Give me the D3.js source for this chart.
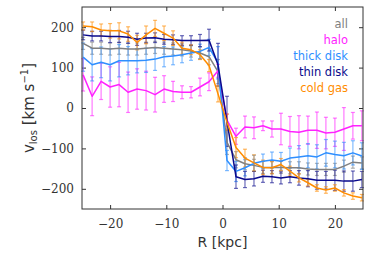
<!DOCTYPE html>
<html>
<head>
<meta charset="utf-8">
<script src="https://cdn.jsdelivr.net/npm/d3@7"></script>
<style>
  body { margin: 0; background: #fff; }
  svg { display: block; }
</style>
</head>
<body>
<div id="chart"></div>
<script>
// bin centres in kpc
const radius = [-24.8, -23.2, -21.6, -20, -18.4, -16.8, -15.2, -13.6, -12, -10.4, -8.8, -7.2, -5.6, -4, -2.4, -0.8,
                0.8, 2.4, 4, 5.6, 7.2, 8.8, 10.4, 12, 13.6, 15.2, 16.8, 18.4, 20, 21.6, 23.2, 24.8];

// line-of-sight velocities (km/s) and their errors
const allVel = [160, 148, 148, 146, 148, 146, 146, 148, 150, 148, 146, 144, 141, 136, 127, 90,
                -85, -128, -138, -142, -147, -147, -147, -148, -148, -151, -152, -152, -152, -144, -134, -136];
const allErr = [15, 15, 15, 15, 15, 15, 15, 15, 15, 15, 15, 15, 15, 15, 20, 30,
                30, 20, 15, 15, 15, 15, 15, 15, 15, 15, 15, 15, 15, 15, 15, 15];

const haloVel = [82, 29, 66, 52, 58, 39, 47, 43, 33, 47, 41, 39, 39, 52, 65, 92,
                 -30, -70, -47, -49, -44, -52, -52, -58, -60, -55, -55, -62, -60, -52, -44, -44];
const haloErr = [40, 48, 45, 50, 55, 50, 50, 48, 43, 33, 25, 16, 14, 22, 22, 16,
                 15, 20, 27, 27, 12, 20, 39, 37, 41, 35, 45, 39, 35, 53, 33, 37];

const thickVel = [126, 107, 113, 107, 117, 117, 117, 118, 121, 127, 129, 132, 136, 140, 150, 112,
                  -130, -157, -148, -137, -132, -129, -132, -124, -121, -118, -121, -111, -115, -118, -111, -119];
const thickErr = [35, 40, 38, 40, 40, 35, 30, 30, 28, 25, 22, 20, 18, 18, 20, 40,
                  25, 25, 20, 20, 18, 20, 22, 25, 28, 30, 30, 33, 33, 33, 30, 33];

const thinVel = [181, 178, 178, 177, 177, 175, 170, 173, 174, 170, 169, 167, 167, 167, 168, 107,
                 -33, -170, -177, -175, -169, -170, -173, -170, -173, -175, -179, -179, -179, -181, -181, -177];
const thinErr = [12, 12, 12, 15, 15, 15, 15, 12, 12, 12, 12, 12, 12, 15, 27, 53,
                 62, 29, 20, 18, 15, 15, 15, 15, 18, 20, 22, 22, 25, 25, 25, 20];

const gasVel = [203, 201, 193, 191, 191, 183, 162, 181, 197, 185, 173, 148, 144, 132, 105, 35,
                -35, -98, -124, -136, -147, -148, -140, -156, -173, -185, -198, -203, -198, -210, -218, -222];
const gasErr = [10, 12, 15, 18, 20, 18, 18, 22, 20, 18, 18, 15, 12, 12, 15, 20,
                20, 25, 22, 20, 18, 15, 15, 12, 10, 8, 8, 8, 8, 8, 8, 8];

const seriesNames = ['all', 'halo', 'thick disk', 'thin disk', 'cold gas'];
const seriesColors = ['#808080', '#ff22ff', '#2e8fff', '#0a0a8c', '#ff8c00'];

const xTicks = [-20, -10, 0, 10, 20];
const yTicks = [-200, -100, 0, 100, 200];

const series = [
    { vel: allVel, err: allErr },
    { vel: haloVel, err: haloErr },
    { vel: thickVel, err: thickErr },
    { vel: thinVel, err: thinErr },
    { vel: gasVel, err: gasErr }
];

const width = 374;
const height = 262;

const svg = d3.select('#chart').append('svg')
    .attr('width', width)
    .attr('height', height);

const x = d3.scaleLinear().domain([-25, 25]).range([82, 363]);
const y = d3.scaleLinear().domain([-250, 250]).range([209, 7]);

const serif = '"DejaVu Serif", serif';
const sans = '"DejaVu Sans", sans-serif';
const minusFmt = d => d3.format('')(d).replace('-', '\u2212');

// axes, ticks pointing inwards on every side
const axisBottomG = svg.append('g')
    .attr('transform', `translate(0,${y.range()[0]})`)
    .call(d3.axisBottom(x).tickValues(xTicks).tickSizeInner(-4).tickSizeOuter(0).tickPadding(10)
        .tickFormat(minusFmt));
const axisLeftG = svg.append('g')
    .attr('transform', `translate(${x.range()[0]},0)`)
    .call(d3.axisLeft(y).tickValues(yTicks).tickSizeInner(-4).tickSizeOuter(0).tickPadding(8)
        .tickFormat(minusFmt));
const axisTopG = svg.append('g')
    .attr('transform', `translate(0,${y.range()[1]})`)
    .call(d3.axisTop(x).tickValues(xTicks).tickSizeInner(-4).tickSizeOuter(0).tickFormat(''));
const axisRightG = svg.append('g')
    .attr('transform', `translate(${x.range()[1]},0)`)
    .call(d3.axisRight(y).tickValues(yTicks).tickSizeInner(-4).tickSizeOuter(0).tickFormat(''));

[axisBottomG, axisLeftG, axisTopG, axisRightG].forEach(g => {
    g.select('.domain').remove();
    g.selectAll('line').attr('stroke', '#333').attr('stroke-width', 1);
    g.selectAll('text')
        .style('font-family', serif)
        .style('font-size', '12px')
        .attr('fill', '#333');
});

// error bars first, then the lines
const capHalf = 2;
series.forEach((s, i) => {
    const g = svg.append('g')
        .attr('stroke', seriesColors[i])
        .attr('stroke-opacity', 0.6)
        .attr('stroke-width', 1.2);
    radius.forEach((r, j) => {
        const x0 = x(r);
        const lo = y(s.vel[j] - s.err[j]);
        const hi = y(s.vel[j] + s.err[j]);
        g.append('line').attr('x1', x0).attr('x2', x0).attr('y1', lo).attr('y2', hi);
        g.append('line').attr('x1', x0 - capHalf).attr('x2', x0 + capHalf).attr('y1', lo).attr('y2', lo);
        g.append('line').attr('x1', x0 - capHalf).attr('x2', x0 + capHalf).attr('y1', hi).attr('y2', hi);
    });
});

const line = d3.line()
    .x(d => x(d[0]))
    .y(d => y(d[1]));

series.forEach((s, i) => {
    svg.append('path')
        .datum(radius.map((r, j) => [r, s.vel[j]]))
        .attr('d', line)
        .attr('fill', 'none')
        .attr('stroke', seriesColors[i])
        .attr('stroke-width', 1.5)
        .attr('stroke-linejoin', 'round');
});

// frame
svg.append('rect')
    .attr('x', x.range()[0])
    .attr('y', y.range()[1])
    .attr('width', x.range()[1] - x.range()[0])
    .attr('height', y.range()[0] - y.range()[1])
    .attr('fill', 'none')
    .attr('stroke', '#333')
    .attr('stroke-width', 1);

// legend: coloured text, right aligned
seriesNames.forEach((name, i) => {
    svg.append('text')
        .attr('x', 348)
        .attr('y', 27.5 + i * 16)
        .attr('text-anchor', 'end')
        .style('font-family', sans)
        .style('font-size', '11.5px')
        .attr('fill', seriesColors[i])
        .text(name);
});

// axis titles
svg.append('text')
    .attr('x', (x.range()[0] + x.range()[1]) / 2)
    .attr('y', 247)
    .attr('text-anchor', 'middle')
    .style('font-family', sans)
    .style('font-size', '14px')
    .attr('fill', '#333')
    .text('R [kpc]');

const yLabel = svg.append('text')
    .attr('transform', `translate(34,${(y.range()[0] + y.range()[1]) / 2}) rotate(-90)`)
    .attr('text-anchor', 'middle')
    .style('font-family', sans)
    .style('font-size', '15px')
    .attr('fill', '#333');
yLabel.append('tspan').text('v');
yLabel.append('tspan').attr('dy', 3).style('font-size', '10px').text('los');
yLabel.append('tspan').attr('dy', -3).text(' [km s');
yLabel.append('tspan').attr('dy', -6).style('font-size', '10px').text('\u22121');
yLabel.append('tspan').attr('dy', 6).text(']');
</script>
</body>
</html>
